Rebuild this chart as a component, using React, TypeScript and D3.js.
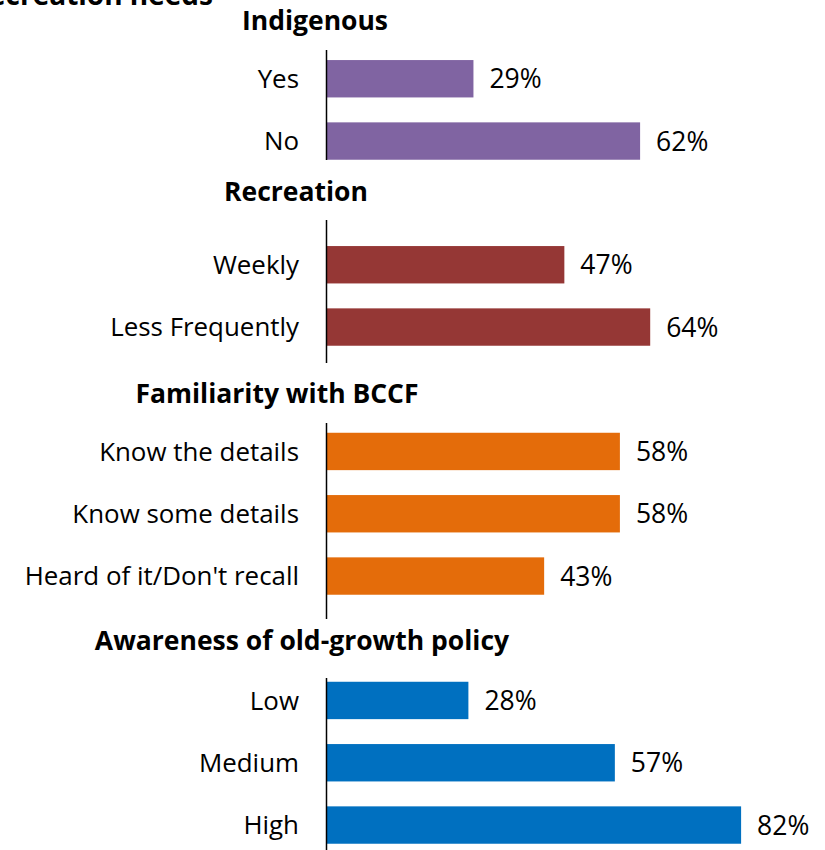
import React from "react";
import * as d3 from "d3";

const indigenousCats = ["Yes", "No"];
const indigenousVals = [29, 62];
const recreationCats = ["Weekly", "Less Frequently"];
const recreationVals = [47, 64];
const familiarityCats = ["Know the details", "Know some details", "Heard of it/Don't recall"];
const familiarityVals = [58, 58, 43];
const awarenessCats = ["Low", "Medium", "High"];
const awarenessVals = [28, 57, 82];

const groupTitles = ["Indigenous", "Recreation", "Familiarity with BCCF", "Awareness of old-growth policy"];
const groupColors = ["#8064A2", "#953735", "#E46C0A", "#0070C0"];
const cutTitle = "Support by recreation needs";

// layout (pixels)
const layout = [
  { bandTop: 47.6, titleX: 315, titleY: 30, axisTop: 50, axisBottom: 160 },
  { bandTop: 233.6, titleX: 296, titleY: 201, axisTop: 220, axisBottom: 363 },
  { bandTop: 420.3, titleX: 277, titleY: 403, axisTop: 423, axisBottom: 619 },
  { bandTop: 669.3, titleX: 302, titleY: 650, axisTop: 678, axisBottom: 852 },
];

const STEP = 62.3;
const FONT = "'Open Sans', 'Noto Sans', sans-serif";

export default function App() {
  const groups = [
    { cats: indigenousCats, vals: indigenousVals },
    { cats: recreationCats, vals: recreationVals },
    { cats: familiarityCats, vals: familiarityVals },
    { cats: awarenessCats, vals: awarenessVals },
  ];
  const x = d3.scaleLinear().domain([0, 100]).range([327, 832]);
  const axisX = 326.5;

  return (
    <svg
      width={825}
      height={850}
      style={{ position: "absolute", left: 0, top: 0, background: "#fff" }}
      fontFamily={FONT}
    >
      <rect width={825} height={850} fill="#fff" />
      <text x={213} y={5} textAnchor="end" fontSize={28} fontWeight="bold" fill="#000">
        {cutTitle}
      </text>
      {groups.map((g, gi) => {
        const L = layout[gi];
        const y = d3
          .scaleBand<string>()
          .domain(g.cats)
          .range([L.bandTop, L.bandTop + g.cats.length * STEP])
          .paddingInner(0.4)
          .paddingOuter(0.2);
        return (
          <g key={gi}>
            <text
              x={L.titleX}
              y={L.titleY}
              textAnchor="middle"
              fontSize={26.5}
              fontWeight="bold"
              fill="#000"
            >
              {groupTitles[gi]}
            </text>
            {g.cats.map((c, i) => {
              const yy = y(c)!;
              const bw = y.bandwidth();
              return (
                <g key={c}>
                  <rect
                    x={x(0)}
                    y={yy}
                    width={x(g.vals[i]) - x(0)}
                    height={bw}
                    fill={groupColors[gi]}
                  />
                  <text
                    x={299}
                    y={yy + bw / 2}
                    dy="0.36em"
                    textAnchor="end"
                    fontSize={25.9}
                    fill="#000"
                  >
                    {c}
                  </text>
                  <text
                    x={x(g.vals[i]) + 16}
                    y={yy + bw / 2}
                    dy="0.36em"
                    textAnchor="start"
                    fontSize={26.5}
                    fill="#000"
                  >
                    {g.vals[i]}%
                  </text>
                </g>
              );
            })}
            <line
              x1={axisX}
              x2={axisX}
              y1={L.axisTop}
              y2={L.axisBottom}
              stroke="#000"
              strokeWidth={1.5}
            />
          </g>
        );
      })}
    </svg>
  );
}
